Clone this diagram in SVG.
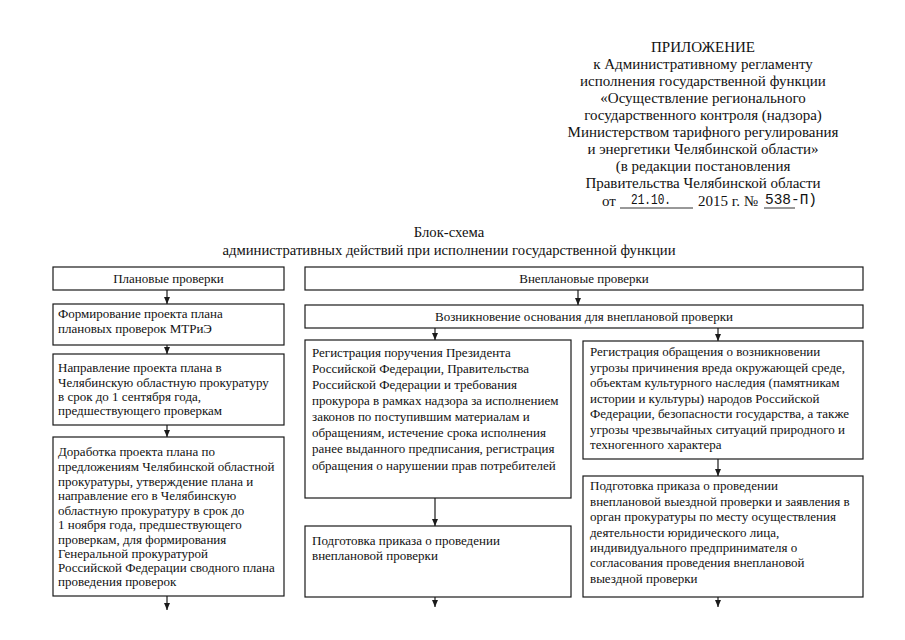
<svg xmlns="http://www.w3.org/2000/svg" width="905" height="640" viewBox="0 0 905 640">
<defs>
<marker id="ah" markerWidth="7" markerHeight="6" refX="7" refY="3" orient="auto" markerUnits="userSpaceOnUse" viewBox="0 0 7 6">
<path d="M0,0 L7,3 L0,6 z" fill="#1a1a1a"/>
</marker>
<style>
.box{fill:#fff;stroke:#1a1a1a;stroke-width:1.2}
.t{font-family:"Liberation Serif","Times New Roman",serif;font-size:13px;fill:#111}
.h{font-family:"Liberation Serif","Times New Roman",serif;font-size:15px;fill:#111;text-anchor:middle}
.ti{font-family:"Liberation Serif","Times New Roman",serif;font-size:14.7px;fill:#111;text-anchor:middle}
.m{font-family:"Liberation Mono","Courier New",monospace;font-size:14.5px;fill:#111}
.c{text-anchor:middle}
.ln{stroke:#333;stroke-width:1;fill:none}
.ar{stroke:#1a1a1a;stroke-width:1.2;fill:none}
</style>
</defs>
<rect width="905" height="640" fill="#fff"/>
<g id="header">
<text class="h" x="703" y="52">ПРИЛОЖЕНИЕ</text>
<text class="h" x="703" y="69">к Административному регламенту</text>
<text class="h" x="703" y="86">исполнения государственной функции</text>
<text class="h" x="703" y="103">«Осуществление регионального</text>
<text class="h" x="703" y="120">государственного контроля (надзора)</text>
<text class="h" x="703" y="137">Министерством тарифного регулирования</text>
<text class="h" x="703" y="154">и энергетики Челябинской области»</text>
<text class="h" x="703" y="171">(в редакции постановления</text>
<text class="h" x="703" y="188">Правительства Челябинской области</text>
<text class="h" x="609" y="206">от</text>
<line class="ln" x1="620" y1="208" x2="693" y2="208"/>
<text class="m" x="631" y="204" textLength="40" lengthAdjust="spacingAndGlyphs">21.10.</text>
<text class="h" x="728" y="206">2015 г. №</text>
<line class="ln" x1="764" y1="208" x2="795" y2="208"/>
<text class="m" x="765" y="204" textLength="52" lengthAdjust="spacingAndGlyphs">538-П)</text>
</g>
<g id="title">
<text class="ti" x="449" y="237">Блок-схема</text>
<text class="ti" x="449" y="255">административных действий при исполнении государственной функции</text>
</g>
<g id="n_plan">
<rect class="box" x="53" y="267" width="231" height="23"/>
<text class="t c" x="168.5" y="283">Плановые проверки</text>
</g>
<g id="n_form">
<rect class="box" x="53" y="304" width="231" height="41"/>
<text class="t" x="58" y="318">Формирование проекта плана</text>
<text class="t" x="58" y="333">плановых проверок МТРиЭ</text>
</g>
<g id="n_napr">
<rect class="box" x="53" y="354" width="231" height="71"/>
<text class="t" x="58" y="372">Направление проекта плана в</text>
<text class="t" x="58" y="387">Челябинскую областную  прокуратуру</text>
<text class="t" x="58" y="401">в срок до 1 сентября года,</text>
<text class="t" x="58" y="415">предшествующего проверкам</text>
</g>
<g id="n_dorab">
<rect class="box" x="53" y="437" width="231" height="159"/>
<text class="t" x="58" y="456">Доработка проекта плана по</text>
<text class="t" x="58" y="471">предложениям Челябинской областной</text>
<text class="t" x="58" y="486">прокуратуры, утверждение плана и</text>
<text class="t" x="58" y="500">направление его в Челябинскую</text>
<text class="t" x="58" y="515">областную прокуратуру в срок до</text>
<text class="t" x="58" y="529">1 ноября года, предшествующего</text>
<text class="t" x="58" y="544">проверкам, для формирования</text>
<text class="t" x="58" y="558">Генеральной прокуратурой</text>
<text class="t" x="58" y="572">Российской Федерации сводного плана</text>
<text class="t" x="58" y="586">проведения проверок</text>
</g>
<g id="n_vneplan">
<rect class="box" x="305" y="267" width="558" height="23"/>
<text class="t c" x="584" y="283">Внеплановые проверки</text>
</g>
<g id="n_vozn">
<rect class="box" x="305" y="305" width="558" height="23"/>
<text class="t c" x="584" y="321">Возникновение основания для внеплановой проверки</text>
</g>
<g id="n_reg1">
<rect class="box" x="305" y="340" width="266" height="158"/>
<text class="t" x="312" y="357">Регистрация поручения Президента</text>
<text class="t" x="312" y="373">Российской Федерации, Правительства</text>
<text class="t" x="312" y="389">Российской Федерации и требования</text>
<text class="t" x="312" y="405">прокурора в рамках надзора за исполнением</text>
<text class="t" x="312" y="421">законов по поступившим материалам и</text>
<text class="t" x="312" y="437">обращениям, истечение срока исполнения</text>
<text class="t" x="312" y="453">ранее выданного предписания, регистрация</text>
<text class="t" x="312" y="470">обращения о нарушении прав потребителей</text>
</g>
<g id="n_reg2">
<rect class="box" x="583" y="341" width="280" height="118"/>
<text class="t" x="590" y="356">Регистрация обращения о возникновении</text>
<text class="t" x="590" y="372">угрозы причинения вреда окружающей среде,</text>
<text class="t" x="590" y="387">объектам культурного наследия (памятникам</text>
<text class="t" x="590" y="403">истории и культуры) народов Российской</text>
<text class="t" x="590" y="418">Федерации, безопасности государства, а также</text>
<text class="t" x="590" y="434">угрозы чрезвычайных ситуаций природного и</text>
<text class="t" x="590" y="449">техногенного характера</text>
</g>
<g id="n_podg1">
<rect class="box" x="305" y="526" width="266" height="71"/>
<text class="t" x="312" y="545">Подготовка приказа о проведении</text>
<text class="t" x="312" y="560">внеплановой проверки</text>
</g>
<g id="n_podg2">
<rect class="box" x="583" y="476" width="280" height="121"/>
<text class="t" x="590" y="490">Подготовка приказа о проведении</text>
<text class="t" x="590" y="506">внеплановой выездной проверки и заявления в</text>
<text class="t" x="590" y="521">орган прокуратуры по месту осуществления</text>
<text class="t" x="590" y="537">деятельности юридического лица,</text>
<text class="t" x="590" y="552">индивидуального предпринимателя о</text>
<text class="t" x="590" y="567">согласования проведения внеплановой</text>
<text class="t" x="590" y="583">выездной проверки</text>
</g>
<g id="connectors">
<line class="ar" x1="167" y1="290" x2="167" y2="304" marker-end="url(#ah)"/>
<line class="ar" x1="167" y1="345" x2="167" y2="354" marker-end="url(#ah)"/>
<line class="ar" x1="167" y1="425" x2="167" y2="437" marker-end="url(#ah)"/>
<line class="ar" x1="167" y1="596" x2="167" y2="610" marker-end="url(#ah)"/>
<line class="ar" x1="578" y1="290" x2="578" y2="305" marker-end="url(#ah)"/>
<line class="ar" x1="435" y1="328" x2="435" y2="340" marker-end="url(#ah)"/>
<line class="ar" x1="718" y1="328" x2="718" y2="341" marker-end="url(#ah)"/>
<line class="ar" x1="435" y1="498" x2="435" y2="526" marker-end="url(#ah)"/>
<line class="ar" x1="718" y1="459" x2="718" y2="476" marker-end="url(#ah)"/>
<line class="ar" x1="435" y1="597" x2="435" y2="607" marker-end="url(#ah)"/>
<line class="ar" x1="718" y1="597" x2="718" y2="607" marker-end="url(#ah)"/>
</g>
</svg>
